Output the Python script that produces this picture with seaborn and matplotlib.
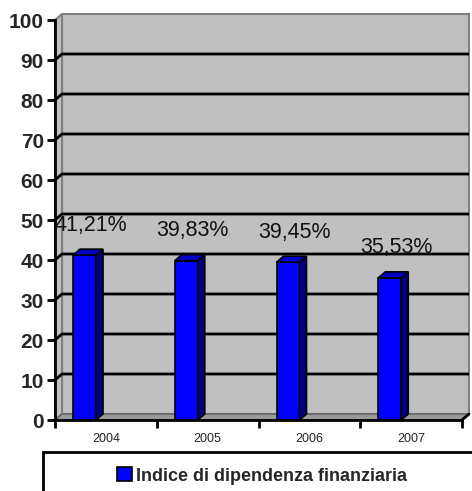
import numpy as np
import pandas as pd
import seaborn as sns
import matplotlib.pyplot as plt
from matplotlib.patches import Rectangle, Polygon

# data
years = ["2004", "2005", "2006", "2007"]
values = [41.21, 39.83, 39.45, 35.53]
series_name = "Indice di dipendenza finanziaria"
y_ticks = list(range(0, 101, 10))

df = pd.DataFrame({"anno": years, "valore": values})

sns.set_style("white")
plt.rcParams['font.family'] = ['Liberation Sans', 'DejaVu Sans']

W, H = 472, 491
fig = plt.figure(figsize=(W / 100, H / 100), dpi=100)
ax = fig.add_axes([55 / W, 71 / H, 407 / W, 400 / H])
ax.set_xlim(-0.5, 3.5)
ax.set_ylim(0, 100)

# 3d depth in data units (7 px right, 6 px up)
px_x = 4 / 407
px_y = 100 / 400
dx, dy = 7 * px_x, 6 * px_y

wall_col = "#c0c0c0"
edge_col = "#808080"

# back wall, left side wall, floor
ax.add_patch(Rectangle((-0.5 + dx, dy), 4, 100, facecolor=wall_col,
                       edgecolor=edge_col, lw=1.5, clip_on=False, zorder=0))
ax.add_patch(Polygon([(-0.5, 0), (-0.5 + dx, dy), (-0.5 + dx, 100 + dy), (-0.5, 100)],
                     facecolor=wall_col, edgecolor=edge_col, lw=1.5, clip_on=False, zorder=0))
ax.add_patch(Polygon([(-0.5, 0), (3.5, 0), (3.5 + dx, dy), (-0.5 + dx, dy)],
                     facecolor="#9a9a9a", edgecolor="#606060", lw=1, clip_on=False, zorder=0.5))

# gridlines on the wall
for yv in y_ticks[1:-1]:
    ax.plot([-0.5, -0.5 + dx, 3.5 + dx], [yv, yv + dy, yv + dy], color="black",
            lw=2, clip_on=False, zorder=1, solid_capstyle="butt")

# bars
sns.barplot(data=df, x="anno", y="valore", color="#0000ff", width=0.226,
            saturation=1, edgecolor="black", linewidth=1.2, ax=ax, zorder=3)
bars = [p for p in ax.patches if isinstance(p, Rectangle) and p.get_zorder() == 3]
shift = -0.21
for bar, v in zip(bars, values):
    x0 = bar.get_x() + shift
    bar.set_x(x0)
    w = bar.get_width()
    x1 = x0 + w
    # side face
    ax.add_patch(Polygon([(x1, 0), (x1 + dx, dy), (x1 + dx, v + dy), (x1, v)],
                         facecolor="#000080", edgecolor="black", lw=1.2, zorder=3.1))
    # top face
    ax.add_patch(Polygon([(x0, v), (x0 + dx, v + dy), (x1 + dx, v + dy), (x1, v)],
                         facecolor="#0000c8", edgecolor="black", lw=1.2, zorder=3.1))
    lbl = f"{v:.2f}%".replace(".", ",")
    ax.text(x0 + w / 2 + dx / 2 + 0.03, v + 7.5, lbl, ha="center", va="center",
            fontsize=15.5, color="#111111", zorder=4)

# axes
for s in ["top", "right"]:
    ax.spines[s].set_visible(False)
for s in ["left", "bottom"]:
    ax.spines[s].set_linewidth(2)
    ax.spines[s].set_color("black")
    ax.spines[s].set_zorder(5)
ax.plot([3.5, 3.5 + dx], [0, dy], color="black", lw=2, clip_on=False, zorder=5)

ax.set_yticks(y_ticks)
ax.set_yticklabels([str(t) for t in y_ticks], fontsize=15, fontweight="bold")
ax.set_xticks(range(len(years)))
ax.set_xticklabels(years, fontsize=9)
ax.set_xticks(np.arange(-0.5, 4, 1), minor=True)
ax.tick_params(axis="y", which="major", length=6, width=2, color="black", pad=2, left=True)
ax.tick_params(axis="x", which="major", length=0, pad=9)
ax.tick_params(axis="x", which="minor", length=6, width=2, color="black", bottom=True)
ax.set_xlabel("")
ax.set_ylabel("")

# legend
fig.add_artist(Rectangle((43 / W, -10 / H), 440 / W, 49 / H, transform=fig.transFigure,
                         facecolor="white", edgecolor="black", lw=2, clip_on=False))
handle = Rectangle((0, 0), 1, 1, facecolor="#0000ff", edgecolor="black", lw=1.2)
fig.legend([handle], [series_name], loc="center", bbox_to_anchor=(262 / W, 15 / H),
           frameon=False, prop={"weight": "bold", "size": 13}, handlelength=0.8,
           handleheight=0.8, handletextpad=0.2)

fig.savefig("out.png", dpi=100, facecolor="white")
